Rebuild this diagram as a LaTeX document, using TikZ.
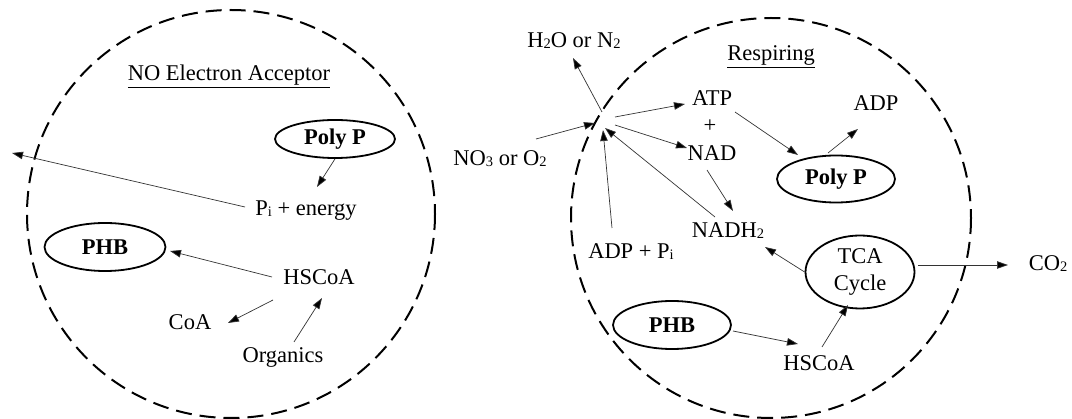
\documentclass[tikz,border=0pt]{standalone}
\usepackage{fontspec}
\setmainfont{Liberation Serif}
\usetikzlibrary{shapes.geometric,arrows.meta}
\newcommand\lsub[1]{\raisebox{-1.5pt}{\fontsize{14.5}{14.5}\selectfont #1}}
\begin{document}
\begin{tikzpicture}[x=1pt,y=-1pt,
  font=\fontsize{22.5}{27}\selectfont,
  txt/.style={inner sep=0pt,text height=16pt,text depth=5pt},
  ell/.style={ellipse,draw,line width=1.8pt,inner sep=0pt,font=\fontsize{22.5}{27}\selectfont\bfseries},
  cell/.style={draw,line width=2pt,dash pattern=on 16pt off 8pt},
  arr/.style={line width=0.7pt,black!80,-{Triangle[length=11pt,width=7.5pt,fill=black]}}]
\useasboundingbox (0,0) rectangle (1072,419);
% cells
\draw[cell] (231,214) circle[radius=204];
\draw[cell] (771,218) circle[radius=200];
% left cell
\node[anchor=base,inner sep=0pt] (titleL) at (229,81) {\underline{NO Electron Acceptor}};
\node[ell,minimum width=120pt,minimum height=38pt] (polyL) at (335,139) {Poly P};
\node[txt] (pe) at (306,210) {P\lsub{i} + energy};
\coordinate (outL) at (12,153);
\node[ell,minimum width=121pt,minimum height=48pt] (phbL) at (105,247) {PHB};
\node[txt] (hsL) at (319,279) {HSCoA};
\node[txt] (coaL) at (190,324) {CoA};
\node[txt] (orgL) at (283,357) {Organics};
\draw[arr] (polyL.south) -- ([shift={(11,-23)}]pe.center);
\draw[arr] ([shift={(-61,-3)}]pe.center) -- (outL);
\draw[arr] ([shift={(-47,-2)}]hsL.center) -- ([shift={(65,4)}]phbL.center);
\draw[arr] ([shift={(-46,21)}]hsL.center) -- ([shift={(38,-1)}]coaL.center);
\draw[arr] ([shift={(11,-15)}]orgL.center) -- ([shift={(3,19)}]hsL.center);
% right cell
\node[anchor=base,inner sep=0pt] (titleR) at (771,61) {\underline{Respiring}};
\node[txt] (h2o) at (574,42) {H\lsub{2}O or N\lsub{2}};
\node[txt] (no3) at (500,160) {NO\lsub{3} or O\lsub{2}};
\coordinate (hub) at (600,125);
\node[txt] (atp) at (712,100) {ATP};
\node[txt] (plus) at (710,127) {+};
\node[txt] (nad) at (712,155) {NAD};
\node[txt] (adppi) at (631,253) {ADP + P\lsub{i}};
\node[txt] (nadh) at (728,232) {NADH\lsub{2}};
\node[ell,minimum width=118pt,minimum height=47pt] (polyR) at (836,179) {Poly P};
\node[txt] (adp) at (876,105) {ADP};
\node[ellipse,draw,line width=1.8pt,inner sep=0pt,minimum width=109pt,minimum height=73pt,align=center] (tca) at (860,272) {TCA\\Cycle};
\node[txt] (co2) at (1048,265) {CO\lsub{2}};
\node[ell,minimum width=118pt,minimum height=48pt] (phbR) at (672,325) {PHB};
\node[txt] (hsR) at (819,365) {HSCoA};
\draw[arr] ([shift={(2,-13)}]hub) -- ([shift={(-1,16)}]h2o.center);
\draw[arr] ([shift={(36,-21)}]no3.center) -- ([shift={(-5,-2)}]hub);
\draw[arr] ([shift={(15,-8)}]hub) -- ([shift={(-27,4)}]atp.center);
\draw[arr] ([shift={(15,0)}]hub) -- ([shift={(-25,-7)}]nad.center);
\draw[arr] ([shift={(-19,-25)}]adppi.center) -- ([shift={(3,5)}]hub);
\draw[arr] ([shift={(-13,-15)}]nadh.center) -- ([shift={(5,3)}]hub);
\draw[arr] ([shift={(-5,15)}]nad.center) -- ([shift={(5,-21)}]nadh.center);
\draw[arr] ([shift={(23,12)}]atp.center) -- ([shift={(-38,-24)}]polyR.center);
\draw[arr] ([shift={(-8,-26)}]polyR.center) -- ([shift={(-18,24)}]adp.center);
\draw[arr] (tca.west) -- ([shift={(37,15)}]nadh.center);
\draw[arr] ([shift={(58,-7)}]tca.center) -- ([shift={(-40,0)}]co2.center);
\draw[arr] ([shift={(61,6)}]phbR.center) -- ([shift={(-21,-21)}]hsR.center);
\draw[arr] ([shift={(3,-18)}]hsR.center) -- ([shift={(-12,33)}]tca.center);
\end{tikzpicture}
\end{document}
